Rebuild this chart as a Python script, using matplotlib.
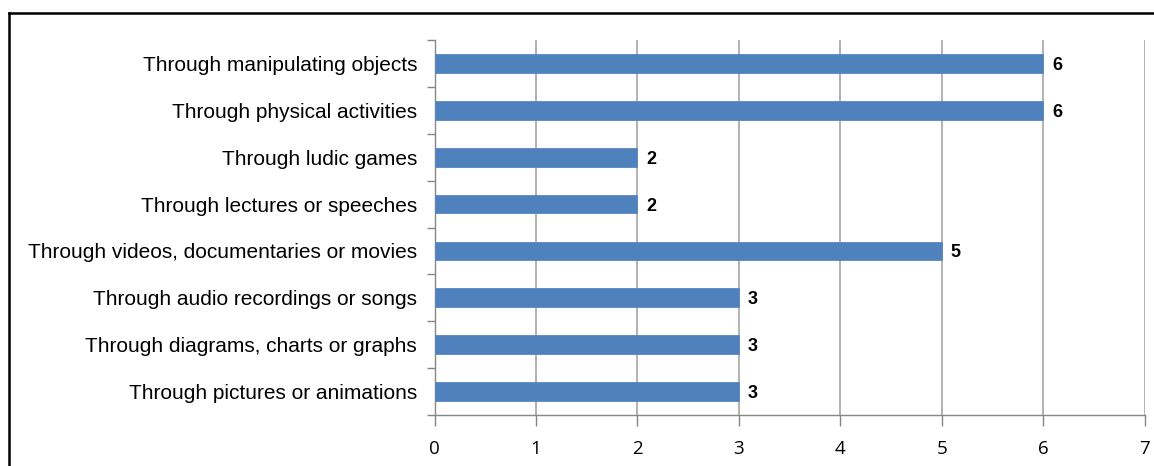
import matplotlib.pyplot as plt
from matplotlib.lines import Line2D

# Learning preferences and number of answers
categories = ['Through manipulating objects', 'Through physical activities',
              'Through ludic games', 'Through lectures or speeches',
              'Through videos, documentaries or movies',
              'Through audio recordings or songs',
              'Through diagrams, charts or graphs',
              'Through pictures or animations']
counts = [6, 6, 2, 2, 5, 3, 3, 3]
x_ticks = [0, 1, 2, 3, 4, 5, 6, 7]

W, H = 1154, 466
fig = plt.figure(figsize=(W / 100, H / 100), dpi=100)
ax = fig.add_axes([434.5 / W, 1 - 415 / H, (1144.5 - 434.5) / W, (415 - 40) / H])

n = len(categories)
pos = [n - 1 - i for i in range(n)]
ax.barh(pos, counts, height=0.4, color='#4F81BD', edgecolor='#5A87C0', linewidth=0.6, zorder=3)

for p, c in zip(pos, counts):
    ax.text(c + 0.09, p, str(c), va='center_baseline', ha='left', fontsize=13,
            fontweight='bold', family='Liberation Sans', color='black')

ax.set_xlim(0, 7)
ax.set_ylim(-0.5, n - 0.5)
ax.set_xticks(x_ticks)
ax.set_xticklabels([str(t) for t in x_ticks], family='Open Sans', fontsize=13.5)

# category labels centred on bars, ticks between categories
ax.set_yticks(pos)
ax.set_yticklabels(categories, family='Liberation Sans', fontsize=15)
ax.tick_params(axis='y', length=0, pad=12.5)
ax.set_yticks([i - 0.5 for i in range(n + 1)], minor=True)
ax.tick_params(axis='y', which='minor', length=6, color='#868686', width=1)
ax.tick_params(axis='x', length=8, color='#868686', width=1, pad=10)

ax.grid(axis='x', color='#A6A6A6', linewidth=1.2, zorder=0)
for s in ['top', 'right']:
    ax.spines[s].set_visible(False)
for s in ['left', 'bottom']:
    ax.spines[s].set_color('#868686')
    ax.spines[s].set_linewidth(1)

# outer frame of the chart area
fig.add_artist(Line2D([8.5 / W, 1], [1 - 13 / H, 1 - 13 / H], color='black', linewidth=1.8))
fig.add_artist(Line2D([8.5 / W, 8.5 / W], [0, 1 - 13 / H], color='black', linewidth=1.8))

fig.savefig('out.png', dpi=100)
